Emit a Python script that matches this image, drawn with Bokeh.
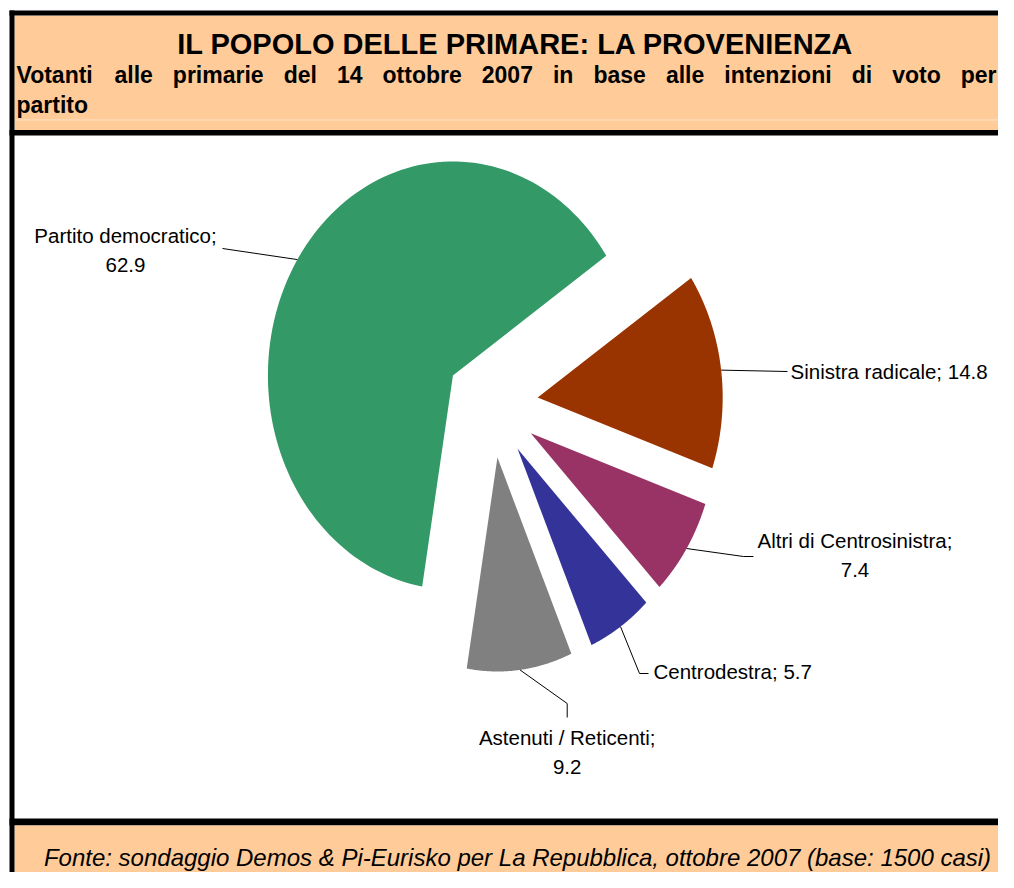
import numpy as np
from bokeh.plotting import figure
from bokeh.models import Range1d, ColumnDataSource
from bokeh.core.properties import value
from bokeh.embed import file_html
from bokeh.resources import INLINE

# ---------------- data ----------------
title = "IL POPOLO DELLE PRIMARE: LA PROVENIENZA"
subtitle_line1 = "Votanti alle primarie del 14 ottobre 2007 in base alle intenzioni di voto per"
subtitle_line2 = "partito"
source_note = "Fonte: sondaggio Demos & Pi-Eurisko per La Repubblica, ottobre 2007 (base: 1500 casi)"

categories = ["Partito democratico", "Sinistra radicale", "Altri di Centrosinistra",
              "Centrodestra", "Astenuti / Reticenti"]
values = [62.9, 14.8, 7.4, 5.7, 9.2]
colors = ["#339966", "#993300", "#993366", "#333399", "#808080"]

# ---------------- layout / style ----------------
PEACH = "#FFCC99"
LABEL_FONT = "Liberation Sans"
LABEL_SIZE = "20.5px"
HEAD_FONT = "Liberation Sans"
TDY = -9.0   # vertical correction applied to text placement

# coordinate window of the figure (pixels of the picture)
X0, X1 = 0, 998
Y0, Y1 = 0, 872

# pie geometry
CX, CY = 491.3, 403.9
RX, RY = 185.0, 214.0
EXPLODE = 0.25
START_DEG = 260.44  # first slice starts here and runs clockwise

# label layout: (alignment, x, first baseline, leader end points)
label_layout = [
    dict(align="center", x=125, y=243.5, two=True, leader=[(222, 248)]),
    dict(align="left", x=790, y=379.5, two=False, leader=[(787, 371)]),
    dict(align="center", x=854.5, y=548.5, two=True, leader=[(743, 556), (753, 556)]),
    dict(align="left", x=653, y=680, two=False, leader=[(639, 673), (648, 673)]),
    dict(align="center", x=566.7, y=746, two=True, leader=[(566.7, 703), (566.7, 717)]),
]
LINE_GAP = 29.5

p = figure(width=X1 - X0, height=Y1 - Y0, x_range=Range1d(X0, X1), y_range=Range1d(Y1, Y0),
           x_axis_type=None, y_axis_type=None, output_backend="svg",
           toolbar_location=None, min_border=0, outline_line_color=None,
           background_fill_color="white", border_fill_color="white")
p.grid.visible = False

# ---------------- frame: header & footer panels ----------------
p.quad(left=[14], right=[X1], top=[15], bottom=[129.5], fill_color=PEACH, line_color=None)
p.line(x=[14, X1], y=[119.5, 119.5], line_color="#FFE2C6", line_width=1)
p.quad(left=[9], right=[X1], top=[10], bottom=[15], fill_color="black", line_color=None)
p.quad(left=[9], right=[X1], top=[129.5], bottom=[135], fill_color="black", line_color=None)
p.quad(left=[9], right=[X1], top=[818], bottom=[825], fill_color="black", line_color=None)
p.quad(left=[14], right=[X1], top=[825], bottom=[Y1], fill_color=PEACH, line_color=None)
p.quad(left=[9], right=[14], top=[10], bottom=[Y1], fill_color="black", line_color=None)

# ---------------- header texts ----------------
p.text(x=[515], y=[53 + TDY - 1], text=[title], text_font=value(HEAD_FONT), text_font_size="29px",
       text_font_style="bold", text_align="center", text_baseline="alphabetic", text_color="black")

# justified first subtitle line (Arial/Liberation Sans Bold advance widths)
BOLD_W = {' ': 278, 'a': 556, 'b': 611, 'd': 611, 'e': 556, 'i': 278, 'l': 278, 'm': 889,
          'n': 611, 'o': 611, 'p': 611, 'r': 389, 's': 556, 't': 333, 'v': 556, 'z': 500,
          'V': 667, '0': 556, '1': 556, '2': 556, '4': 556, '7': 556}
SUB_SIZE = 23
words = subtitle_line1.split()
wwidths = [sum(BOLD_W.get(c, 556) for c in w) * SUB_SIZE / 1000.0 for w in words]
x_left, x_right = 16.0, 996.0
gap = (x_right - x_left - sum(wwidths)) / (len(words) - 1)
wx = []
cur = x_left
for w in wwidths:
    wx.append(cur)
    cur += w + gap
p.text(x=wx, y=[83 + TDY] * len(words), text=words, text_font=value(HEAD_FONT),
       text_font_size=f"{SUB_SIZE}px", text_font_style="bold", text_align="left",
       text_baseline="alphabetic", text_color="black")
p.text(x=[16], y=[113 + TDY], text=[subtitle_line2], text_font=value(HEAD_FONT),
       text_font_size=f"{SUB_SIZE}px", text_font_style="bold", text_align="left",
       text_baseline="alphabetic", text_color="black")

# ---------------- footer ----------------
p.text(x=[517], y=[866 + TDY], text=[source_note], text_font=value(HEAD_FONT), text_font_size="24px",
       text_font_style="italic", text_align="center", text_baseline="alphabetic", text_color="black")

# ---------------- exploded pie ----------------
vals = np.array(values, dtype=float)
spans = vals / vals.sum() * 360.0
xs_list, ys_list, mids = [], [], []
cur = START_DEG
for s in spans:
    t0, t1 = cur, cur - s
    mid = np.radians((t0 + t1) / 2.0)
    ax = CX + EXPLODE * RX * np.cos(mid)
    ay = CY - EXPLODE * RY * np.sin(mid)
    t = np.radians(np.linspace(t0, t1, 120))
    xs_list.append([ax] + list(ax + RX * np.cos(t)))
    ys_list.append([ay] + list(ay - RY * np.sin(t)))
    mids.append((ax + RX * np.cos(mid), ay - RY * np.sin(mid)))
    cur = t1

p.patches(xs="xs", ys="ys", fill_color="color", line_color=None,
          source=ColumnDataSource(dict(xs=xs_list, ys=ys_list, color=colors)))

# ---------------- leader lines & data labels ----------------
lx, ly = [], []
for (mx, my), lay in zip(mids, label_layout):
    pts = [(mx, my)] + lay["leader"]
    lx.append([q[0] for q in pts])
    ly.append([q[1] for q in pts])
p.multi_line(xs=lx, ys=ly, line_color="black", line_width=1)

for cat, v, lay in zip(categories, values, label_layout):
    if lay["two"]:
        texts = [f"{cat};", f"{v:.1f}"]
        ys = [lay["y"] + TDY, lay["y"] + LINE_GAP + TDY]
    else:
        texts = [f"{cat}; {v:.1f}"]
        ys = [lay["y"] + TDY]
    p.text(x=[lay["x"]] * len(texts), y=ys, text=texts, text_font=value(LABEL_FONT),
           text_font_size=LABEL_SIZE, text_align=lay["align"],
           text_baseline="alphabetic", text_color="black")

open("out.html", "w").write(file_html(p, INLINE))
